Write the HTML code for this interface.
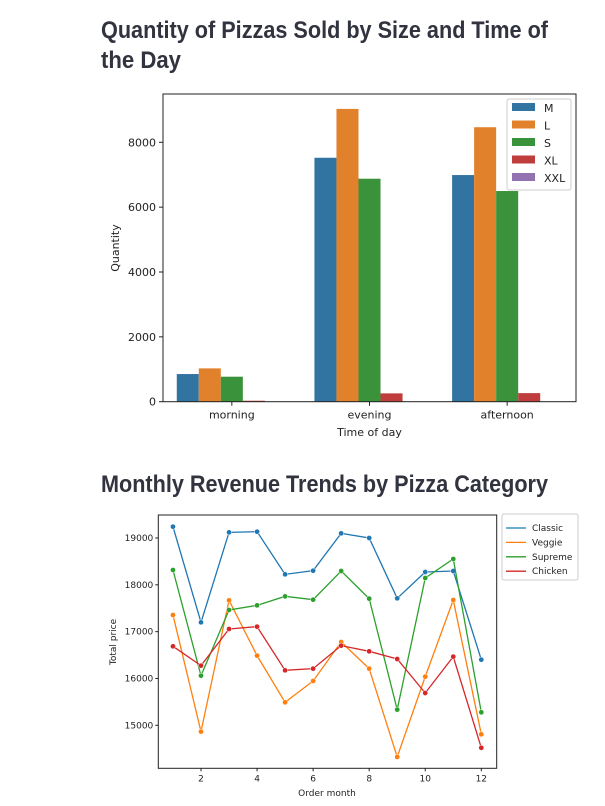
<!DOCTYPE html>
<html><head><meta charset="utf-8"><style>
html,body{margin:0;padding:0;background:#fff;}
svg{display:block;font-family:"DejaVu Sans","Liberation Sans",sans-serif;}
.t{font-family:"Liberation Sans",sans-serif;font-weight:bold;fill:#31333f;font-size:24px;}
</style></head><body>
<svg id="page" width="605" height="806" viewBox="0 0 605 806" xmlns="http://www.w3.org/2000/svg">
<text class="t" x="101" y="38" textLength="447" lengthAdjust="spacingAndGlyphs">Quantity of Pizzas Sold by Size and Time of</text>
<text class="t" x="101" y="68" textLength="80" lengthAdjust="spacingAndGlyphs">the Day</text>
<text class="t" x="101" y="492" textLength="447" lengthAdjust="spacingAndGlyphs">Monthly Revenue Trends by Pizza Category</text>
<g id="bar"></g>
<g id="line"></g>
</svg>
<script>
const barCats=["morning","evening","afternoon"];
const sizes=["M","L","S","XL","XXL"];
const sizeM=[853,7523,6990];
const sizeL=[1028,9030,8465];
const sizeS=[771,6877,6497];
const sizeXL=[30,257,265];
const sizeXXL=[0,0,0];
const barYTicks=[0,2000,4000,6000,8000];

const months=[1,2,3,4,5,6,7,8,9,10,11,12];
const categories=["Classic","Veggie","Supreme","Chicken"];
const classic=[19242,17199,19121,19135,18224,18302,19100,19000,17712,18274,18295,16402];
const veggie=[17356,14865,17669,16488,15491,15947,16779,16210,14324,16039,17676,14808];
const supreme=[18317,16060,17463,17562,17754,17683,18295,17705,15335,18146,18552,15278];
const chicken=[16687,16274,17057,17107,16174,16210,16701,16580,16416,15690,16466,14520];
const lineXTicks=[2,4,6,8,10,12];
const lineYTicks=[15000,16000,17000,18000,19000];

const NS="http://www.w3.org/2000/svg";
const colors=["#3274a1","#e1812c","#3a923a","#c03d3e","#9372b2"];
const lcolors=["#1f77b4","#ff7f0e","#2ca02c","#d62728"];
function mk(p,tag,at,txt){const e=document.createElementNS(NS,tag);for(const k in at)e.setAttribute(k,at[k]);if(txt!==undefined)e.textContent=txt;p.appendChild(e);return e;}

// BAR CHART
(function(){
const g=document.getElementById('bar');
const L=163,R=576,T=94,B=401.7;
const y=v=>B-v*(259.4/8000);
const x=i=>L+(i+0.5)*(R-L)/3;
const step=(R-L)/3, bw=step*0.16;
const series=[sizeM,sizeL,sizeS,sizeXL,sizeXXL];
series.forEach((s,si)=>{s.forEach((v,ci)=>{
 const r=mk(g,'rect',{x:x(ci)-step*0.4+si*bw,y:y(v),width:bw,height:B-y(v),fill:colors[si]});
 
 
});});
mk(g,'rect',{x:L,y:T,width:R-L,height:B-T,fill:'none',stroke:'#222','stroke-width':1});
barYTicks.forEach(t=>{mk(g,'line',{x1:L-4,x2:L,y1:y(t),y2:y(t),stroke:'#222'});
 const e=mk(g,'text',{x:L-7,y:y(t)+4,'text-anchor':'end','font-size':11,fill:'#222'},t);
 });
barCats.forEach((c,i)=>{mk(g,'line',{x1:x(i),x2:x(i),y1:B,y2:B+4,stroke:'#222'});
 const e=mk(g,'text',{x:x(i),y:B+17,'text-anchor':'middle','font-size':11,fill:'#222'},c);
 });
let e=mk(g,'text',{x:(L+R)/2,y:436,'text-anchor':'middle','font-size':11,fill:'#222'},'Time of day');

e=mk(g,'text',{x:119,y:248,'text-anchor':'middle','font-size':11,fill:'#222',transform:'rotate(-90 119 248)'},'Quantity');

const lg=mk(g,'g',{});
mk(lg,'rect',{x:507,y:99,width:64,height:91,fill:'#fff','fill-opacity':0.85,stroke:'#ccc',rx:2});
sizes.forEach((s,i)=>{mk(lg,'rect',{x:512,y:103+i*17.5,width:23,height:8,fill:colors[i]});
 const t=mk(lg,'text',{x:544,y:112+i*17.5,'font-size':11,fill:'#222'},s);
 });
})();

// LINE CHART
(function(){
const g=document.getElementById('line');
const L=158.3,R=496.7,T=515,B=768.3;
const x=m=>201+(m-2)*28.03;
const y=v=>538+(19000-v)*(187.3/4000);
const series=[classic,veggie,supreme,chicken];
series.forEach((s,si)=>{
 const pts=s.map((v,i)=>x(months[i])+','+y(v)).join(' ');
 const pl=mk(g,'polyline',{points:pts,fill:'none',stroke:lcolors[si],'stroke-width':1.3});
 
 s.forEach((v,i)=>{const c=mk(g,'circle',{cx:x(months[i]),cy:y(v),r:2.6,fill:lcolors[si],stroke:'#fff','stroke-width':0.5});
  });
});
mk(g,'rect',{x:L,y:T,width:R-L,height:B-T,fill:'none',stroke:'#222','stroke-width':1});
lineYTicks.forEach(t=>{mk(g,'line',{x1:L-3,x2:L,y1:y(t),y2:y(t),stroke:'#222'});
 const e=mk(g,'text',{x:L-5,y:y(t)+3,'text-anchor':'end','font-size':9,fill:'#222'},t);
 });
lineXTicks.forEach(t=>{mk(g,'line',{x1:x(t),x2:x(t),y1:B,y2:B+3,stroke:'#222'});
 const e=mk(g,'text',{x:x(t),y:B+13,'text-anchor':'middle','font-size':9,fill:'#222'},t);
 });
let e=mk(g,'text',{x:327,y:796,'text-anchor':'middle','font-size':9,fill:'#222'},'Order month');

e=mk(g,'text',{x:116,y:642,'text-anchor':'middle','font-size':9,fill:'#222',transform:'rotate(-90 116 642)'},'Total price');

const lg=mk(g,'g',{});
mk(lg,'rect',{x:502,y:514,width:76,height:66,fill:'#fff',stroke:'#ccc',rx:2});
categories.forEach((c,i)=>{mk(lg,'line',{x1:506,x2:526,y1:528+i*14.4,y2:528+i*14.4,stroke:lcolors[i],'stroke-width':1.3});
 const t=mk(lg,'text',{x:532,y:531+i*14.4,'font-size':9,fill:'#222'},c);
 });
})();
</script>
</body></html>
